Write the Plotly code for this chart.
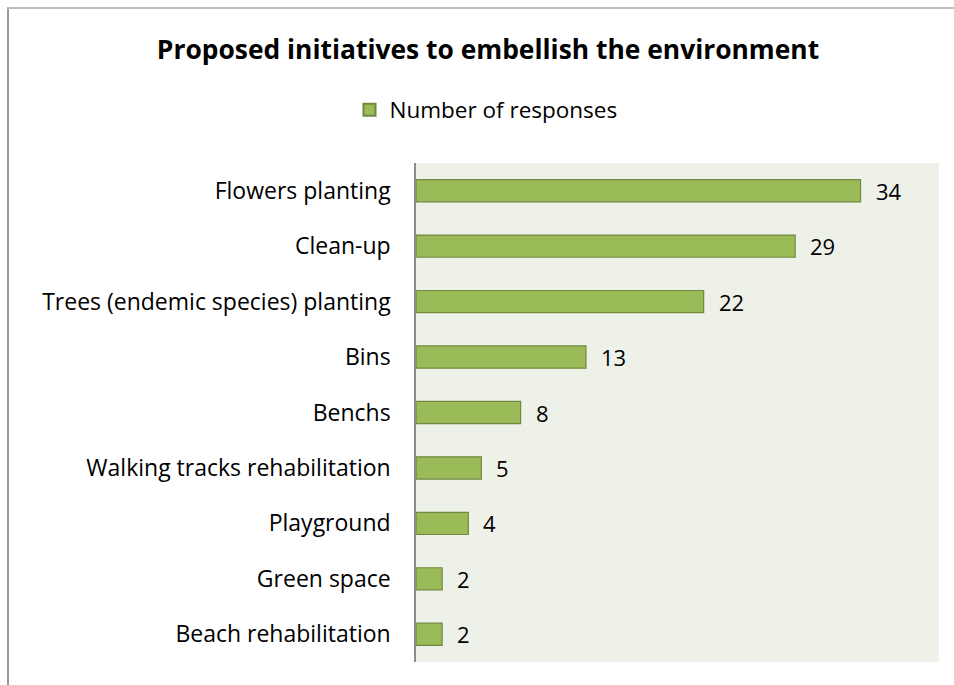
import plotly.graph_objects as go

# Survey results
categories = [
    "Flowers planting",
    "Clean-up",
    "Trees (endemic species) planting",
    "Bins",
    "Benchs",
    "Walking tracks rehabilitation",
    "Playground",
    "Green space",
    "Beach rehabilitation",
]
responses = [34, 29, 22, 13, 8, 5, 4, 2, 2]
series_name = "Number of responses"
chart_title = "Proposed initiatives to embellish the environment"

W, H = 954, 685
L, R, T, B = 416, 15, 163, 23
FONT = "Open Sans"
FS = 23

fig = go.Figure(
    go.Bar(
        x=responses,
        y=categories,
        orientation="h",
        name=series_name,
        marker=dict(color="#9BBB59", line=dict(color="#71893F", width=1.2)),
        width=0.4,
        showlegend=True,
    )
)

# value labels to the right of each bar
for c, v in zip(categories, responses):
    fig.add_annotation(
        x=v, y=c, text=str(v), showarrow=False,
        xanchor="left", yanchor="middle", xshift=13,
        font=dict(family=FONT, size=FS - 1, color="#000000"),
    )

# outer chart frame (left and top edges)
pw = W - L - R
ph = H - T - B
fx = lambda px: (px - L) / pw
fy = lambda py: (H - B - py) / ph
fig.add_shape(type="line", xref="paper", yref="paper",
              x0=fx(8), x1=fx(8), y0=fy(8), y1=fy(H + 5),
              line=dict(color="#9A9A9A", width=2))
fig.add_shape(type="line", xref="paper", yref="paper",
              x0=fx(7), x1=fx(W + 5), y0=fy(8), y1=fy(8),
              line=dict(color="#BDBDBD", width=2))

fig.update_layout(
    width=W, height=H,
    margin=dict(l=L, r=R, t=T, b=B),
    paper_bgcolor="#FFFFFF",
    plot_bgcolor="#EEF1E7",
    font=dict(family=FONT, size=FS, color="#000000"),
    title=dict(
        text="<b>" + chart_title + "</b>",
        x=488 / W, xanchor="center",
        y=1 - 50 / H, yanchor="middle",
        font=dict(family=FONT, size=26.4, color="#000000"),
    ),
    legend=dict(
        orientation="h",
        x=fx(486), xanchor="center",
        y=fy(110), yanchor="middle",
        font=dict(family=FONT, size=FS - 0.5),
        bgcolor="rgba(0,0,0,0)",
        itemsizing="constant",
    ),
    xaxis=dict(
        range=[0, 40], showticklabels=False, showgrid=False,
        zeroline=False, showline=False, ticks="",
    ),
    yaxis=dict(
        categoryorder="array", categoryarray=categories,
        autorange="reversed",
        showgrid=False, zeroline=False,
        showline=True, linecolor="#8C8C8C", linewidth=1.5,
        ticks="", ticklabelstandoff=19,
        tickfont=dict(family=FONT, size=FS),
    ),
)

fig.write_html("out.html")
